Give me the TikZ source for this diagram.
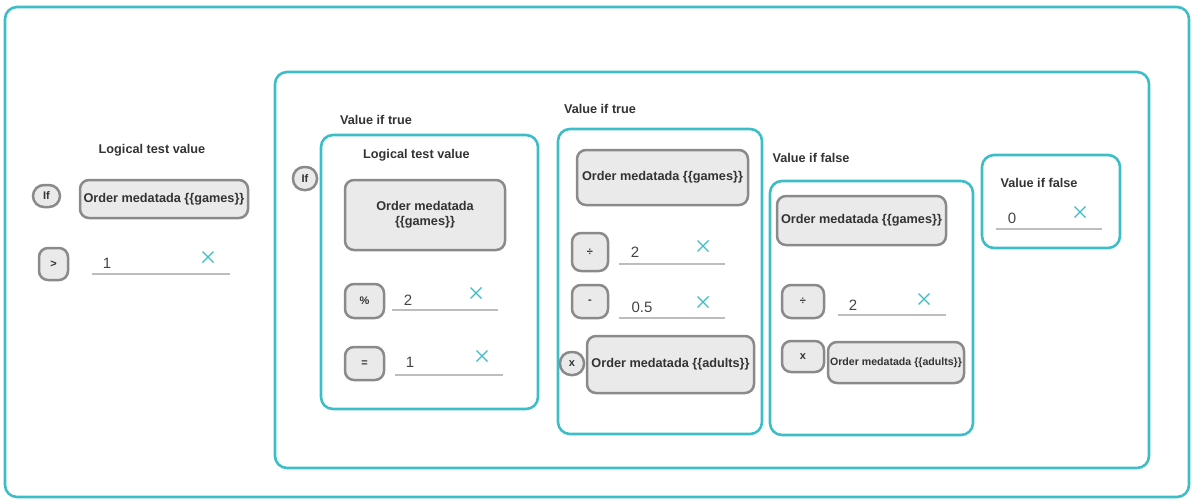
\documentclass[tikz,border=0pt]{standalone}
\usepackage{fontspec}
\setmainfont{Liberation Sans}
\definecolor{teal1}{HTML}{3DBDC6}
\definecolor{gborder}{HTML}{8A8A8A}
\definecolor{gfill}{HTML}{EAEAEA}
\definecolor{labelc}{HTML}{333333}
\definecolor{valc}{HTML}{444444}
\definecolor{ulc}{HTML}{BDBDBD}
\tikzset{
  frame/.style={draw=teal1, line width=2.6pt, rounded corners=12pt},
  gbox/.style={draw=gborder, fill=gfill, line width=2.5pt, rounded corners=9pt,
    inner sep=0pt, align=center, text=labelc, font=\bfseries\fontsize{12.7}{15}\selectfont},
  opbox/.style={gbox, font=\bfseries\fontsize{11}{12}\selectfont},
  opcirc/.style={gbox, rounded corners=11pt, font=\bfseries\fontsize{11}{12}\selectfont},
  lbl/.style={text=labelc, font=\bfseries\fontsize{12.7}{15}\selectfont, inner sep=0pt},
  val/.style={text=valc, font=\fontsize{15}{17}\selectfont, inner sep=0pt},
  uline/.style={draw=ulc, line width=2pt},
  clr/.style={draw=teal1, line width=1.3pt},
}
% small clear mark drawn as a cross
\newcommand{\clearmark}[2]{%
  \draw[clr] (#1-5.5,#2-5.5) -- (#1+5.5,#2+5.5);
  \draw[clr] (#1-5.5,#2+5.5) -- (#1+5.5,#2-5.5);}
\begin{document}
\begin{tikzpicture}[x=1pt, y=-1pt]
\useasboundingbox (0,0) rectangle (1194,501);
% outer and inner frames
\draw[frame] (5,7) rectangle (1189,497);
\draw[frame] (275,72) rectangle (1149,468);
\draw[frame] (321,135) rectangle (538,409);
\draw[frame] (558,129) rectangle (762,434);
\draw[frame] (770,181) rectangle (973,435);
\draw[frame] (982,155) rectangle (1120,248);

% left: logical test
\node[lbl] (lt1) at (152,150) {Logical test value};
\node[opcirc, minimum width=27pt, minimum height=22pt] (if1) at (46.5,196) {If};
\node[gbox, minimum width=168pt, minimum height=38pt] (g1) at (164,199) {Order medatada \{\{games\}\}};
\node[opbox, minimum width=29pt, minimum height=32pt] (gt) at (53.5,264) {>};
\coordinate (u1a) at (92,274); \coordinate (u1b) at (230,274);
\draw[uline] (u1a) -- (u1b);
\node[val] (v1) at (107,263) {1};
\clearmark{208}{257}

% nested if
\node[opcirc, minimum width=24pt, minimum height=23pt] (if2) at (305,178.5) {If};
\node[lbl] (vt1) at (376,120) {Value if true};
\node[lbl] (lt2) at (416.5,155) {Logical test value};
\node[gbox, minimum width=160pt, minimum height=70pt] (g2) at (425,215) {Order medatada\\\{\{games\}\}};
\node[opbox, minimum width=39pt, minimum height=34pt] (pct) at (364.5,301) {\%};
\draw[uline] (392,310) -- (498,310);
\node[val] (v2) at (408,300) {2};
\clearmark{476}{293}
\node[opbox, minimum width=39pt, minimum height=33pt] (eq) at (364.5,363.5) {=};
\draw[uline] (395,375) -- (503,375);
\node[val] (v3) at (410,362) {1};
\clearmark{482}{356}

% value if true
\node[lbl] (vt2) at (600,109) {Value if true};
\node[gbox, minimum width=171pt, minimum height=55pt] (g3) at (662.5,177.5) {Order medatada \{\{games\}\}};
\node[opbox, minimum width=36pt, minimum height=38pt] (div1) at (590,252) {÷};
\draw[uline] (619,264) -- (725,264);
\node[val] (v4) at (635,252.5) {2};
\clearmark{703}{246}
\node[opbox, minimum width=36pt, minimum height=33pt] (minus) at (590,301.5) {-};
\draw[uline] (619,318) -- (725,318);
\node[val] (v5) at (642,307) {0.5};
\clearmark{703}{302}
\node[opcirc, minimum width=24pt, minimum height=23pt] (xc) at (572,363.5) {x};
\node[gbox, minimum width=167pt, minimum height=57pt] (g4) at (670.5,364.5) {Order medatada \{\{adults\}\}};

% value if false
\node[lbl] (vf1) at (811,158) {Value if false};
\node[gbox, minimum width=169pt, minimum height=49pt] (g5) at (861.5,220.5) {Order medatada \{\{games\}\}};
\node[opbox, minimum width=42pt, minimum height=33pt] (div2) at (803,301.5) {÷};
\draw[uline] (838,315) -- (946,315);
\node[val] (v6) at (853,305) {2};
\clearmark{924}{299}
\node[opbox, minimum width=42pt, minimum height=31pt] (xb) at (803,356.5) {x};
\node[gbox, minimum width=136pt, minimum height=41pt, font=\bfseries\fontsize{10.6}{12}\selectfont] (g6) at (896,362.5) {Order medatada \{\{adults\}\}};

% outer value if false
\node[lbl] (vf2) at (1039,183) {Value if false};
\draw[uline] (996,229) -- (1102,229);
\node[val] (v7) at (1012,218) {0};
\clearmark{1080}{212}
\end{tikzpicture}
\end{document}
